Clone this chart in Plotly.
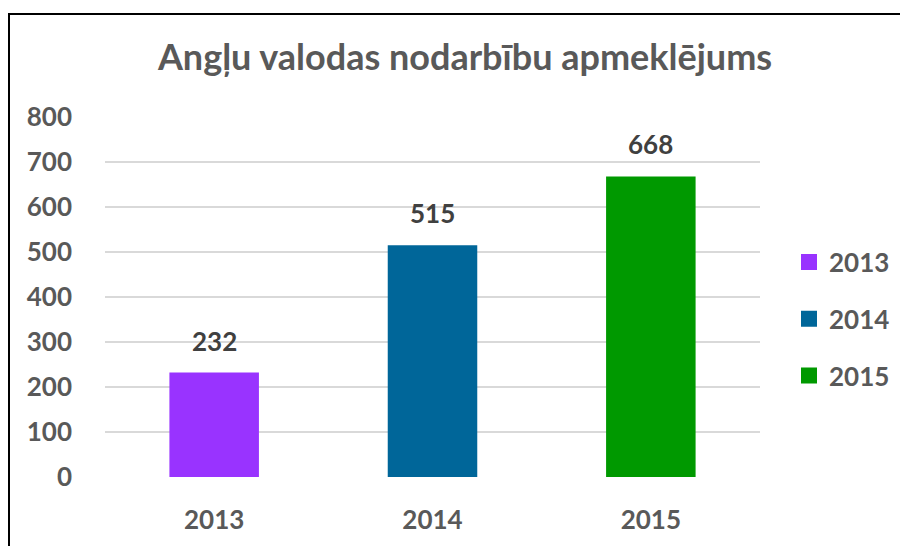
import plotly.graph_objects as go

years = ["2013", "2014", "2015"]
values = [232, 515, 668]
colors = ["#9933FF", "#006699", "#009900"]
title_text = "Angļu valodas nodarbību apmeklējums"
y_ticks = [0, 100, 200, 300, 400, 500, 600, 700, 800]

OFF = 8  # default page body margin
W, H = 908 - OFF, 546 - OFF
L, T = 105 - OFF, 117 - OFF
B = H - (477 - OFF)
R = W - (760 - OFF)
pw, ph = W - L - R, H - T - B

FONT = "Lato"
GREY = "#595959"
DARK = "#404040"

fig = go.Figure()
for i, (yr, v, c) in enumerate(zip(years, values, colors)):
    fig.add_trace(go.Bar(
        x=[yr], y=[v], name=yr, marker=dict(color=c, line=dict(width=0)),
        width=0.41, legendgroup=yr, showlegend=False, hoverinfo="x+y",
    ))
    # legend entry with a larger square swatch
    fig.add_trace(go.Scatter(
        x=[None], y=[None], mode="markers", name=yr, legendgroup=yr,
        marker=dict(symbol="square", size=16, color=c, line=dict(width=0)),
        showlegend=True, hoverinfo="skip",
    ))
    fig.add_annotation(
        x=i, y=v, text=f"<b>{v}</b>", showarrow=False,
        yanchor="middle", yshift=32,
        font=dict(family=FONT, size=26, color=DARK),
    )

def px_x(p):
    return (p - OFF - L) / pw

def px_y(p):
    return (H - B - (p - OFF)) / ph

# outer chart border (left and top visible)
fig.add_shape(type="rect", xref="paper", yref="paper",
              x0=px_x(9), x1=px_x(930), y0=px_y(570), y1=px_y(14),
              line=dict(color="black", width=2), fillcolor="rgba(0,0,0,0)",
              layer="above")

fig.update_layout(
    width=W, height=H,
    margin=dict(l=L, r=R, t=T, b=B, pad=0),
    paper_bgcolor="white", plot_bgcolor="white",
    barmode="overlay",
    title=dict(text=f"<b>{title_text}</b>", x=px_x(465), xref="paper",
               xanchor="center", y=1 - (57 - OFF) / H, yanchor="middle",
               font=dict(family=FONT, size=36, color=GREY)),
    legend=dict(x=px_x(789), y=px_y(319), xanchor="left", yanchor="middle",
                font=dict(family=FONT, size=26, color=GREY, weight="bold"),
                tracegroupgap=20, bgcolor="rgba(0,0,0,0)",
                itemsizing="trace"),
    xaxis=dict(type="category", range=[-0.5, 2.5], showgrid=False,
               showline=False, zeroline=False, ticks="",
               ticklabelstandoff=25,
               tickfont=dict(family=FONT, size=26, color=GREY, weight="bold")),
    yaxis=dict(range=[0, 800], tickvals=y_ticks, showgrid=True,
               gridcolor="#D9D9D9", gridwidth=1.5, zeroline=False,
               showline=False, ticks="", ticklabelstandoff=32,
               tickfont=dict(family=FONT, size=26, color=GREY, weight="bold")),
    showlegend=True,
)

fig.write_html("out.html")
